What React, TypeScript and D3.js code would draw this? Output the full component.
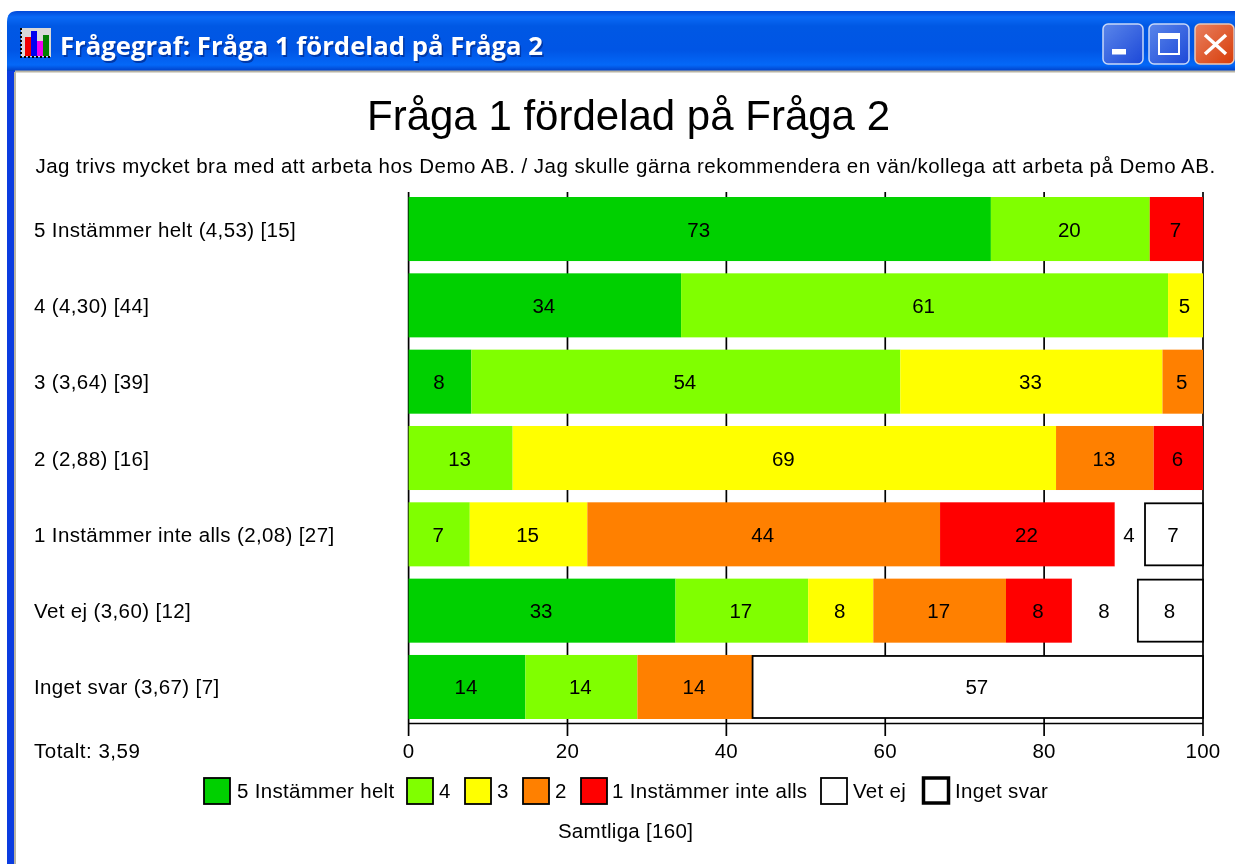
import React from "react";
import * as d3 from "d3";

const titleBarText = "Frågegraf: Fråga 1 fördelad på Fråga 2";
const chartTitle = "Fråga 1 fördelad på Fråga 2";
const subtitle = "Jag trivs mycket bra med att arbeta hos Demo AB. / Jag skulle gärna rekommendera en vän/kollega att arbeta på Demo AB.";
const totalLabel = "Totalt: 3,59";
const footer = "Samtliga [160]";

const categories = [
  "5 Instämmer helt (4,53) [15]",
  "4 (4,30) [44]",
  "3 (3,64) [39]",
  "2 (2,88) [16]",
  "1 Instämmer inte alls (2,08) [27]",
  "Vet ej (3,60) [12]",
  "Inget svar (3,67) [7]",
];
const seriesNames = ["5 Instämmer helt", "4", "3", "2", "1 Instämmer inte alls", "Vet ej", "Inget svar"];
const seriesColors = ["#00D000", "#80FF00", "#FFFF00", "#FF8000", "#FF0000", "#FFFFFF", "#FFFFFF"];

// bar lengths
const s5 = [73.3, 34.3, 7.9, 0, 0, 33.6, 14.7];
const s4 = [20, 61.3, 54, 13.1, 7.7, 16.7, 14.1];
const s3 = [0, 4.4, 33, 68.4, 14.8, 8.2, 0];
const s2 = [0, 0, 5.1, 12.3, 44.4, 16.7, 14.5];
const s1 = [6.7, 0, 0, 6.2, 22, 8.3, 0];
const sVetEj = [0, 0, 0, 0, 3.8, 8.3, 0];
const sIngetSvar = [0, 0, 0, 0, 7.3, 8.2, 56.7];
const seriesValues = [s5, s4, s3, s2, s1, sVetEj, sIngetSvar];

// printed labels
const l5 = [73, 34, 8, 0, 0, 33, 14];
const l4 = [20, 61, 54, 13, 7, 17, 14];
const l3 = [0, 5, 33, 69, 15, 8, 0];
const l2 = [0, 0, 5, 13, 44, 17, 14];
const l1 = [7, 0, 0, 6, 22, 8, 0];
const lVetEj = [0, 0, 0, 0, 4, 8, 0];
const lIngetSvar = [0, 0, 0, 0, 7, 8, 57];
const seriesLabels = [l5, l4, l3, l2, l1, lVetEj, lIngetSvar];

const FONT = "'Liberation Sans', Arial, sans-serif";
const TS = 20.5;

export default function App() {
  const x = d3.scaleLinear().domain([0, 100]).range([408.6, 1203]);
  const y = d3.scaleBand().domain(categories).range([197, 719]).paddingInner(0.161);
  const table = categories.map((c, j) => {
    const row: Record<string, number | string> = { c };
    seriesNames.forEach((n, i) => (row[n] = seriesValues[i][j]));
    return row;
  });
  const stacked = d3.stack<any>().keys(seriesNames)(table);
  const ticks = x.ticks(5);
  const legendX = [203, 406, 464, 522, 580, 820, 922];
  const legendTextX = [237, 439, 497, 555, 612, 853, 955];

  return (
    <svg width={1235} height={864} style={{ position: "absolute", left: 0, top: 0, display: "block", filter: "blur(0.45px)" }} fontFamily={FONT}>
      <defs>
        <linearGradient id="bar" x1="0" y1="0" x2="0" y2="1">
          <stop offset="0" stopColor="#0048D8" />
          <stop offset="0.1" stopColor="#0A6AF6" />
          <stop offset="0.25" stopColor="#0058E4" />
          <stop offset="0.65" stopColor="#0055E5" />
          <stop offset="0.9" stopColor="#0468F8" />
          <stop offset="1" stopColor="#0040C8" />
        </linearGradient>
        <linearGradient id="btn" x1="0" y1="0" x2="1" y2="1">
          <stop offset="0" stopColor="#5A86EA" />
          <stop offset="1" stopColor="#1C48D8" />
        </linearGradient>
        <linearGradient id="close" x1="0" y1="0" x2="1" y2="1">
          <stop offset="0" stopColor="#E88060" />
          <stop offset="1" stopColor="#D83C08" />
        </linearGradient>
      </defs>
      <rect width={1235} height={864} fill="#FFFFFF" />

      {/* window frame */}
      <rect x={7} y={60} width={8} height={804} fill="#0A3CE0" />
      <path d="M7,71 V22 Q7,11 17,11 H1235 V71 Z" fill="url(#bar)" />
      <rect x={15} y={70.5} width={1220} height={2} fill="#B8B4A4" />
      <rect x={14} y={72} width={2} height={792} fill="#B8B4A4" />

      {/* title bar icon */}
      <rect x={21} y={28} width={30} height={29} fill="#D8D8D8" />
      <rect x={25} y={37} width={6} height={19} fill="#F00000" />
      <rect x={31} y={31} width={6} height={25} fill="#0000F0" />
      <rect x={37} y={41} width={6} height={15} fill="#F000F0" />
      <rect x={43} y={35} width={6} height={21} fill="#008000" />
      <path d="M21,28 V57 H51" fill="none" stroke="#000" strokeWidth={2} strokeDasharray="2 2" />

      <text x={61.5} y={56.5} fontFamily="'Open Sans', sans-serif" fontWeight={700} fontSize={25} fill="#0038A8" textLength={483} lengthAdjust="spacingAndGlyphs">{titleBarText}</text>
      <text x={60} y={55} fontFamily="'Open Sans', sans-serif" fontWeight={700} fontSize={25} fill="#FFFFFF" textLength={483} lengthAdjust="spacingAndGlyphs">{titleBarText}</text>

      {/* window buttons */}
      <rect x={1103} y={24} width={40} height={40} rx={5} fill="url(#btn)" stroke="#C8D8F8" strokeWidth={1.5} />
      <rect x={1112} y={49} width={14} height={5.5} fill="#FFFFFF" />
      <rect x={1149} y={24} width={40} height={40} rx={5} fill="url(#btn)" stroke="#C8D8F8" strokeWidth={1.5} />
      <rect x={1159} y={34} width={20} height={20} fill="none" stroke="#FFFFFF" strokeWidth={2} />
      <rect x={1158} y={33} width={22} height={6} fill="#FFFFFF" />
      <rect x={1195} y={24} width={39} height={40} rx={5} fill="url(#close)" stroke="#E8C8B8" strokeWidth={1.5} />
      <path d="M1205,35 L1226,54 M1226,35 L1205,54" stroke="#FFFFFF" strokeWidth={3.5} />

      <text x={628.5} y={129.5} textAnchor="middle" fontSize={42} fill="#000">{chartTitle}</text>
      <text x={625.5} y={172.5} textAnchor="middle" fontSize={TS} letterSpacing={0.48} fill="#000">{subtitle}</text>

      {/* gridlines and ticks */}
      {ticks.map((t) => (
        <line key={t} x1={x(t)} x2={x(t)} y1={192} y2={736} stroke="#000" strokeWidth={1.7} />
      ))}
      <line x1={408} x2={1203} y1={723.5} y2={723.5} stroke="#000" strokeWidth={1.5} />

      {/* bars */}
      {stacked.map((layer, i) =>
        layer.map((d, j) => {
          if (d[1] - d[0] <= 0) return null;
          const outlined = seriesNames[i] === "Inget svar";
          const yy = y(categories[j]) as number;
          const bw = y.bandwidth();
          return (
            <g key={`${i}-${j}`}>
              <rect
                x={x(d[0])}
                y={outlined ? yy + 1 : yy}
                width={x(d[1]) - x(d[0])}
                height={outlined ? bw - 2 : bw}
                fill={seriesColors[i]}
                stroke={outlined ? "#000" : "none"}
                strokeWidth={outlined ? 1.8 : 0}
              />
              <text x={(x(d[0]) + x(d[1])) / 2 - 1} y={yy + bw / 2 + 7.5} textAnchor="middle" fontSize={TS} fill="#000">
                {seriesLabels[i][j]}
              </text>
            </g>
          );
        })
      )}

      {/* tick labels */}
      {ticks.map((t) => (
        <text key={t} x={x(t)} y={758} textAnchor="middle" fontSize={TS} letterSpacing={0.3} fill="#000">{t}</text>
      ))}

      {/* category labels */}
      {categories.map((c) => (
        <text key={c} x={34} y={(y(c) as number) + y.bandwidth() / 2 + 7.5} fontSize={TS} letterSpacing={0.37} fill="#000">{c}</text>
      ))}
      <text x={34} y={758} fontSize={TS} letterSpacing={0.5} fill="#000">{totalLabel}</text>

      {/* legend */}
      {seriesNames.map((n, i) => (
        <g key={n}>
          <rect
            x={legendX[i] + (i === 6 ? 1.5 : 1)}
            y={778}
            width={i === 6 ? 25 : 26}
            height={i === 6 ? 25 : 26}
            fill={seriesColors[i]}
            stroke="#000"
            strokeWidth={i === 6 ? 3.5 : 1.8}
          />
          <text x={legendTextX[i]} y={798} fontSize={TS} letterSpacing={0.3} fill="#000">{n}</text>
        </g>
      ))}
      <text x={625.5} y={838} textAnchor="middle" fontSize={TS} letterSpacing={0.3} fill="#000">{footer}</text>
    </svg>
  );
}
